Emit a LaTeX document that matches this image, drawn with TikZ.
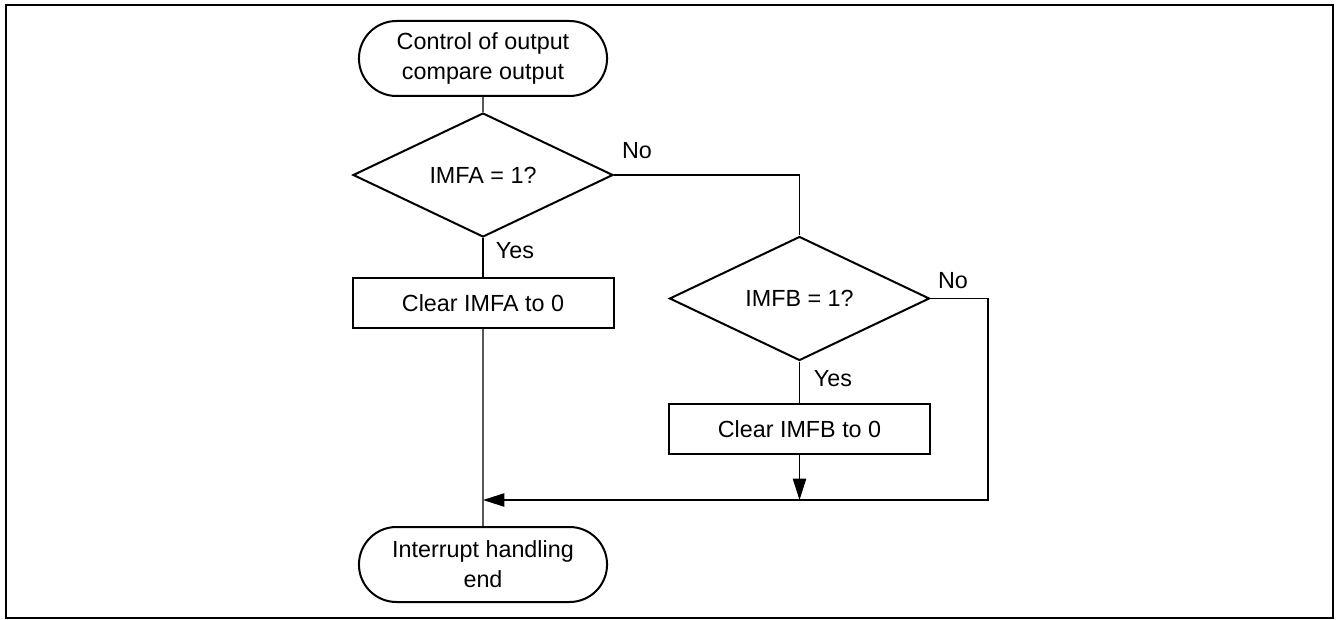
\documentclass[tikz,border=0pt]{standalone}
\usepackage{fontspec}
\setmainfont{Liberation Sans}
\usetikzlibrary{positioning,arrows.meta,shapes}

\begin{document}
\begin{tikzpicture}[x=0.75pt, y=-0.75pt,
  term/.style={draw, line width=1.5pt, rounded rectangle, align=center, minimum width=192.75pt, minimum height=56.25pt},
  test/.style={draw, line width=1.5pt, diamond, aspect=2.08, inner sep=0pt, minimum width=195pt, minimum height=93pt},
  box/.style={draw, line width=1.5pt, minimum width=195.75pt, minimum height=37.5pt},
  line/.style={line width=1pt},
  arrow/.style={line width=1pt, -{Triangle[length=16pt, width=10pt]}},
  lbl/.style={inner sep=0pt},
  font=\fontsize{17.5}{22.5}\selectfont
]
\useasboundingbox (0,0) rectangle (1337,620);
\draw[line width=1.6pt] (6,5) rectangle (1333,618);

\node[term] (start) at (483,58.5) {Control of output\\compare output};
\node[test] (qa) at (483,175) {IMFA = 1?};
\node[box] (clra) at (483,303) {Clear IMFA to 0};
\node[test] (qb) at (799.5,298.5) {IMFB = 1?};
\node[box] (clrb) at (799.5,429) {Clear IMFB to 0};
\node[term] (stop) at (483,564.5) {Interrupt handling\\end};

\node[lbl] (noa) at (637,150.5) {No};
\node[lbl] (yesa) at (515,250.5) {Yes};
\node[lbl] (nob) at (953,280.5) {No};
\node[lbl] (yesb) at (833,378.5) {Yes};

\coordinate (rt) at (988,500);
\coordinate (mg) at (483,500);
\coordinate (mgb) at (799.5,500);

\draw[line] (start) -- (qa);
\draw[line] (qa) -- (clra);
\draw[line] (clra) -- (stop);
\draw[line] (qa.east) -| (qb.north);
\draw[line] (qb) -- (clrb);
\draw[arrow] (clrb) -- (mgb);
\draw[arrow] (qb.east) -| (rt) -- (mg);
\end{tikzpicture}
\end{document}
